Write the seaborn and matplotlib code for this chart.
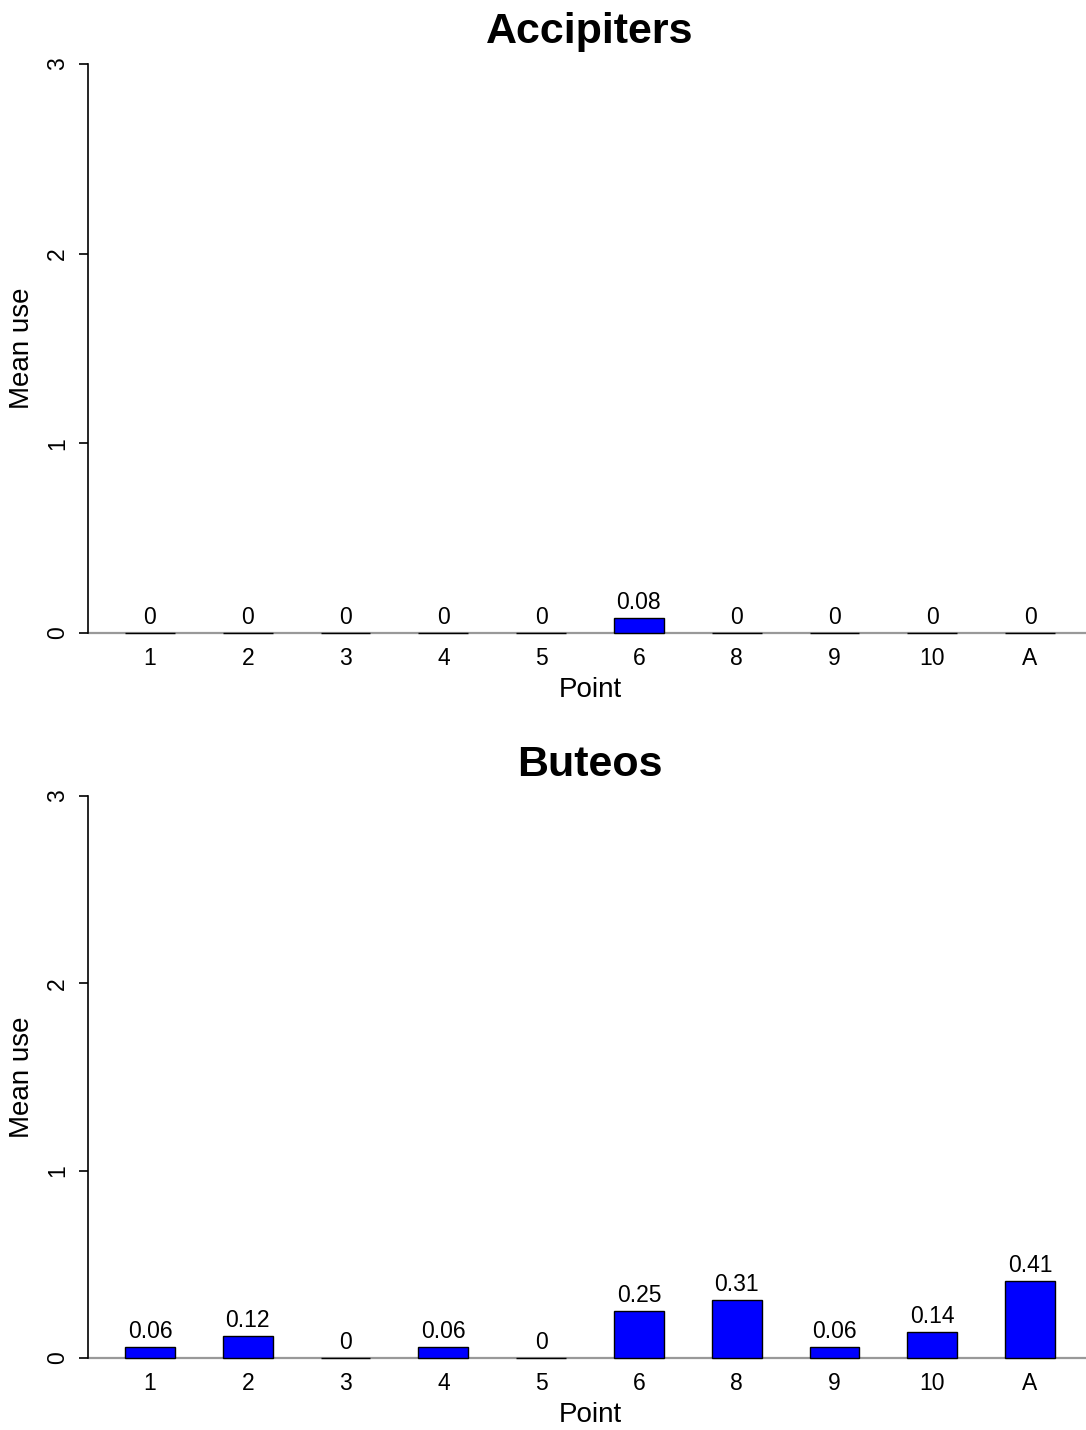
import numpy as np
import pandas as pd
import matplotlib
matplotlib.use('Agg')
import matplotlib.pyplot as plt
import seaborn as sns

sns.set_style('white')
plt.rcParams['font.family'] = ['Liberation Sans', 'DejaVu Sans']
plt.rcParams['text.color'] = 'black'
plt.rcParams['axes.labelcolor'] = 'black'
plt.rcParams['xtick.color'] = 'black'
plt.rcParams['ytick.color'] = 'black'

# data
points = ['1', '2', '3', '4', '5', '6', '8', '9', '10', 'A']
accipiters = [0, 0, 0, 0, 0, 0.08, 0, 0, 0, 0]
buteos = [0.06, 0.12, 0, 0.06, 0, 0.25, 0.31, 0.06, 0.14, 0.41]

panels = [('Accipiters', accipiters), ('Buteos', buteos)]

fig = plt.figure(figsize=(10.86, 14.3), dpi=100)
W, H = 1086, 1430
# axes boxes in pixels: left, top, right, bottom
boxes = [(88, 41.2, 1092, 655.8), (88, 773.5, 1092, 1380.5)]

for (title, vals), (l, t, r, b) in zip(panels, boxes):
    ax = fig.add_axes([l / W, 1 - b / H, (r - l) / W, (b - t) / H])
    df = pd.DataFrame({'Point': points, 'Mean use': vals})
    sns.barplot(data=df, x='Point', y='Mean use', order=points, color='#0000ff',
                saturation=1, edgecolor='black', linewidth=1.0, width=0.51,
                ax=ax, zorder=2)
    ax.axhline(0, color='#999999', lw=1.6, zorder=1)
    for i, v in enumerate(vals):
        ax.annotate(f'{v:g}', (i, v), xytext=(0, 6.5), textcoords='offset points',
                    ha='center', va='baseline', fontsize=16.5, color='black')
    ax.set_xlim(-0.634, 9.634)
    ax.set_ylim(-0.12, 3.12)
    ax.set_yticks([0, 1, 2, 3])
    ax.set_yticklabels(['0', '1', '2', '3'], rotation=90, va='center')
    for s in ['top', 'right', 'bottom']:
        ax.spines[s].set_visible(False)
    ax.spines['left'].set_bounds(0, 3)
    ax.spines['left'].set_color('black')
    ax.spines['left'].set_linewidth(1.2)
    ax.tick_params(axis='y', direction='out', length=6.5, width=1.2, pad=7,
                   labelsize=16.5, left=True, color='black')
    ax.tick_params(axis='x', length=0, pad=-6, labelsize=16.5)
    ax.set_xlabel('Point', fontsize=20, labelpad=5)
    ax.set_ylabel('Mean use', fontsize=20, labelpad=8)
    ax.set_title(title, fontsize=31, fontweight='bold', pad=-1.5, x=(590 - l) / (r - l))
    ax.set_facecolor('white')

fig.savefig('out.png', dpi=100, facecolor='white')
